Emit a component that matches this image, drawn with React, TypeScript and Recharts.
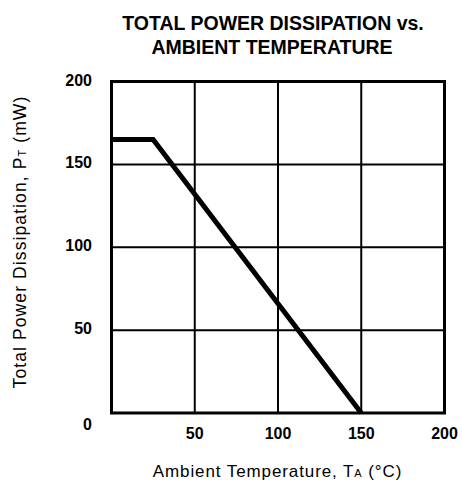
import React from "react";
import {
  LineChart,
  Line,
  XAxis,
  YAxis,
  CartesianGrid,
  ReferenceArea,
} from "recharts";

// Data
const ambientTemps = [0, 25, 150];
const powerDissipation = [165, 165, 0];
const xTicks = [0, 50, 100, 150, 200];
const yTicks = [0, 50, 100, 150, 200];
const titleLines = ["TOTAL POWER DISSIPATION vs.", "AMBIENT TEMPERATURE"];

const data = ambientTemps.map((t, i) => ({ t, p: powerDissipation[i] }));

const FONT = "'Liberation Sans', Arial, Helvetica, sans-serif";

const XTick = (props: any) => {
  const { x, y, payload } = props;
  if (payload.value === 0) return null;
  return (
    <text
      x={x}
      y={y + 25.5}
      textAnchor="middle"
      fontFamily={FONT}
      fontWeight="bold"
      fontSize={16}
      fill="#000"
    >
      {payload.value}
    </text>
  );
};

const YTick = (props: any) => {
  const { x, y, payload } = props;
  const dy = payload.value === 0 ? 17 : 4;
  return (
    <text
      x={x - 19.5}
      y={y + dy}
      textAnchor="end"
      fontFamily={FONT}
      fontWeight="bold"
      fontSize={16}
      fill="#000"
    >
      {payload.value}
    </text>
  );
};

export default function App() {
  return (
    <div
      style={{
        position: "absolute",
        left: 0,
        top: 0,
        width: 462,
        height: 484,
        background: "#fff",
      }}
    >
      <LineChart
        width={462}
        height={484}
        data={data}
        margin={{ top: 81.5, right: 17.5, left: 0, bottom: 0 }}
      >
        <CartesianGrid stroke="#000" strokeWidth={2} />
        <XAxis
          type="number"
          dataKey="t"
          domain={[0, 200]}
          ticks={xTicks}
          axisLine={false}
          tickLine={false}
          tickSize={0}
          tickMargin={0}
          height={71}
          tick={<XTick />}
          interval={0}
        />
        <YAxis
          type="number"
          domain={[0, 200]}
          ticks={yTicks}
          axisLine={false}
          tickLine={false}
          tickSize={0}
          tickMargin={0}
          width={111.5}
          tick={<YTick />}
          interval={0}
        />
        <ReferenceArea
          x1={0}
          x2={200}
          y1={0}
          y2={200}
          fill="none"
          fillOpacity={0}
          stroke="#000"
          strokeWidth={3}
        />
        <Line
          type="linear"
          dataKey="p"
          stroke="#000"
          strokeWidth={5}
          strokeLinejoin="miter"
          dot={false}
          activeDot={false}
          isAnimationActive={false}
        />
      </LineChart>
      <svg
        width={462}
        height={484}
        style={{ position: "absolute", left: 0, top: 0, pointerEvents: "none" }}
      >
        <text
          x={273}
          y={30}
          textAnchor="middle"
          fontFamily={FONT}
          fontWeight="bold"
          fontSize={19.5}
          fill="#000"
        >
          {titleLines[0]}
        </text>
        <text
          x={272}
          y={54}
          textAnchor="middle"
          fontFamily={FONT}
          fontWeight="bold"
          fontSize={19.5}
          fill="#000"
        >
          {titleLines[1]}
        </text>
        <text
          x={277.5}
          y={477}
          textAnchor="middle"
          fontFamily={FONT}
          fontSize={17}
          letterSpacing={0.9}
          fill="#000"
        >
          Ambient Temperature, T
          <tspan fontSize={11}>A</tspan> (°C)
        </text>
        <text
          transform="translate(26, 242) rotate(-90)"
          textAnchor="middle"
          fontFamily={FONT}
          fontSize={17.5}
          letterSpacing={1.1}
          fill="#000"
        >
          Total Power Dissipation, P
          <tspan fontSize={11}>T</tspan> (mW)
        </text>
      </svg>
    </div>
  );
}
